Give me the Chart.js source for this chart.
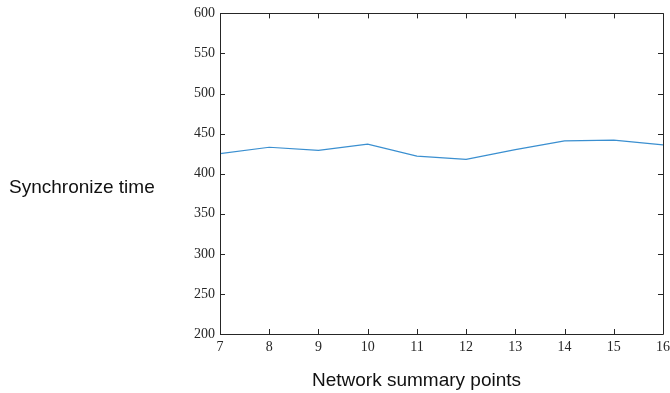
<!DOCTYPE html>
<html><head><meta charset="utf-8">
<script src="https://cdn.jsdelivr.net/npm/chart.js@4/dist/chart.umd.min.js"></script>
<style>html,body{margin:0;padding:0;background:#fff}#wrap{width:670px;height:393px;position:relative}</style>
</head><body><div id="wrap"><canvas id="c" width="670" height="393"></canvas></div>
<script>
const xValues = [7, 8, 9, 10, 11, 12, 13, 14, 15, 16];
const syncTime = [425, 433, 429, 437, 422, 418, 430, 441, 442, 436];
const yTicks = [200, 250, 300, 350, 400, 450, 500, 550, 600];
const xTitle = 'Network summary points';
const yTitle = 'Synchronize time';

const boxPlugin = {
  id: 'box',
  afterDraw(chart) {
    const ctx = chart.ctx, a = chart.chartArea;
    const xs = chart.scales.x, ys = chart.scales.y;
    ctx.save();
    ctx.strokeStyle = '#262626';
    ctx.lineWidth = 1;
    ctx.beginPath();
    ctx.rect(Math.round(a.left) + 0.5, Math.round(a.top) + 0.5, Math.round(a.right - a.left), Math.round(a.bottom - a.top));
    ctx.stroke();
    const L = 5;
    ctx.beginPath();
    xs.ticks.forEach(t => {
      const p = Math.round(xs.getPixelForValue(t.value)) + 0.5;
      ctx.moveTo(p, a.bottom); ctx.lineTo(p, a.bottom - L);
      ctx.moveTo(p, a.top); ctx.lineTo(p, a.top + L);
    });
    ys.ticks.forEach(t => {
      const p = Math.round(ys.getPixelForValue(t.value)) + 0.5;
      ctx.moveTo(a.left, p); ctx.lineTo(a.left + L, p);
      ctx.moveTo(a.right, p); ctx.lineTo(a.right - L, p);
    });
    ctx.stroke();
    ctx.fillStyle = '#111';
    ctx.font = '19px "Liberation Sans", Arial, sans-serif';
    ctx.textBaseline = 'middle';
    ctx.textAlign = 'left';
    ctx.fillText(yTitle, 9, (a.top + a.bottom) / 2 + 14);
    ctx.textAlign = 'center';
    ctx.fillText(xTitle, (a.left + a.right) / 2 - 25, a.bottom + 47);
    ctx.restore();
  }
};

new Chart(document.getElementById('c'), {
  type: 'line',
  data: {
    datasets: [{
      data: xValues.map((x, i) => ({x: x, y: syncTime[i]})),
      borderColor: '#3a8fd0',
      borderWidth: 1.2,
      pointRadius: 0,
      tension: 0,
      fill: false
    }]
  },
  options: {
    responsive: false,
    animation: false,
    devicePixelRatio: 1,
    layout: {padding: {top: 11, right: 0, bottom: 39, left: 0}},
    plugins: {legend: {display: false}, tooltip: {enabled: false}},
    scales: {
      x: {
        type: 'linear', min: 7, max: 16,
        afterBuildTicks: s => { s.ticks = xValues.map(v => ({value: v})); },
        afterFit: s => { s.height = 20; s.paddingRight = 7; },
        ticks: {font: {family: '"Liberation Serif", serif', size: 14}, color: '#262626', padding: 5, maxRotation: 0, autoSkip: false},
        grid: {display: false, drawTicks: false, tickLength: 0},
        border: {display: false}
      },
      y: {
        min: 200, max: 600,
        afterBuildTicks: s => { s.ticks = yTicks.map(v => ({value: v})); },
        afterFit: s => { s.width = 220; },
        ticks: {font: {family: '"Liberation Serif", serif', size: 14}, color: '#262626', padding: 5},
        grid: {display: false, drawTicks: false, tickLength: 0},
        border: {display: false}
      }
    }
  },
  plugins: [boxPlugin]
});
</script></body></html>
